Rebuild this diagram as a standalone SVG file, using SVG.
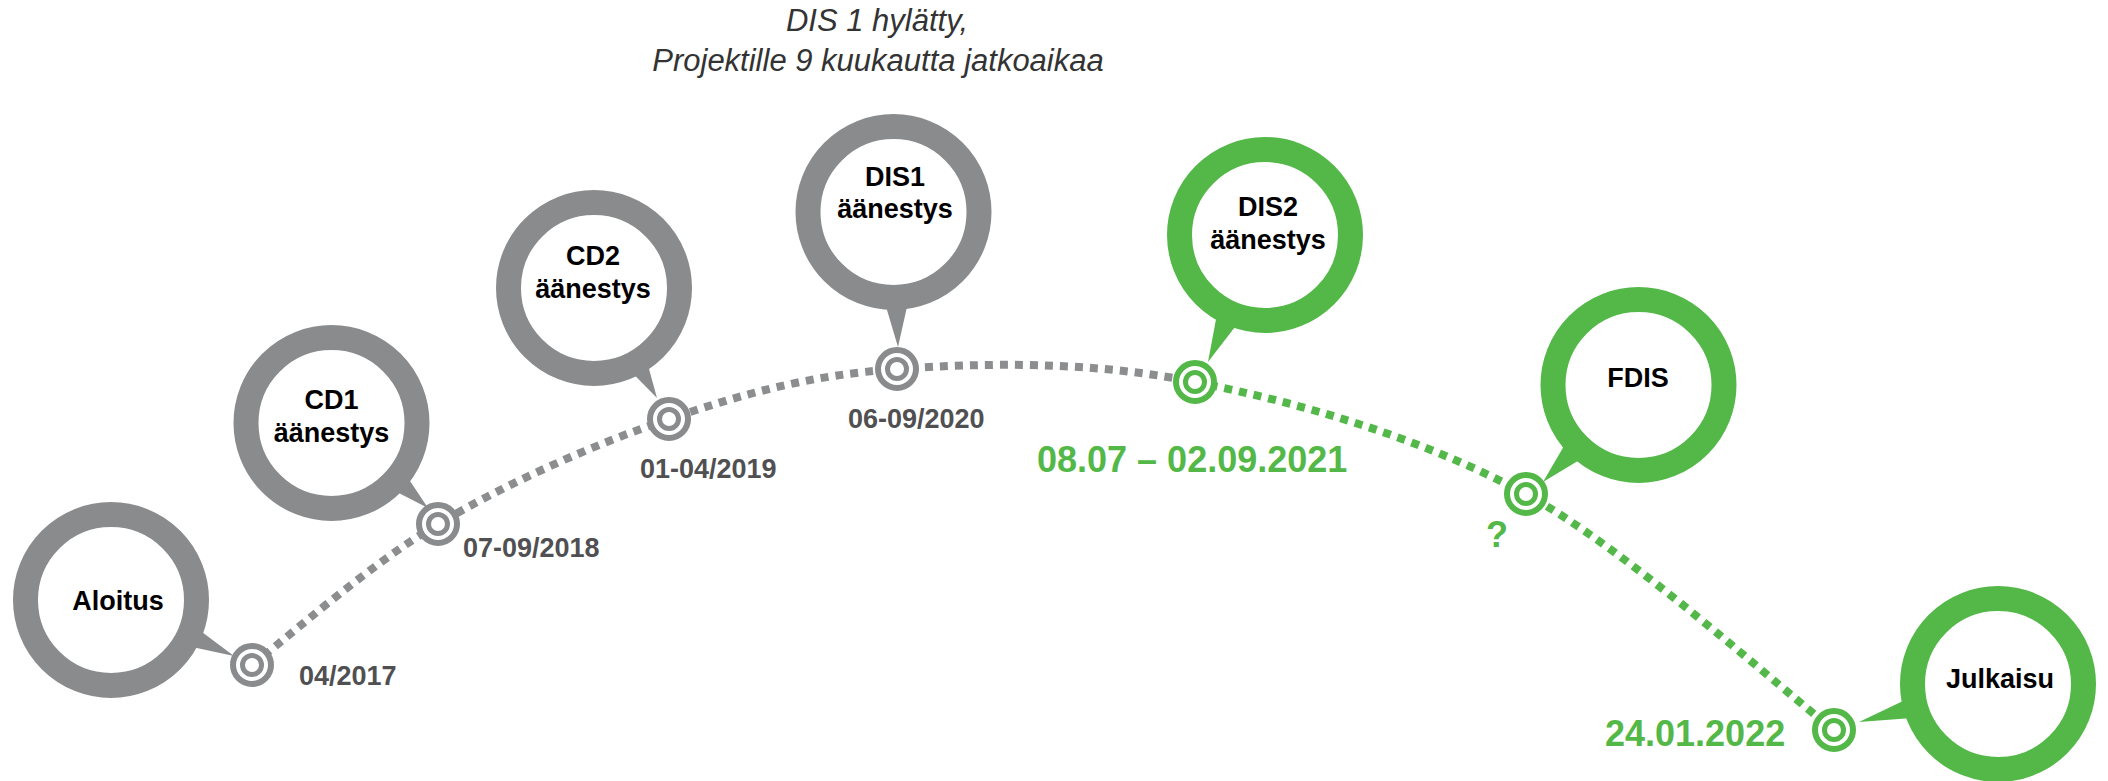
<svg xmlns="http://www.w3.org/2000/svg" width="2108" height="781" viewBox="0 0 2108 781">
  <defs>
    <filter id="soft" x="-5%" y="-5%" width="110%" height="110%">
      <feGaussianBlur stdDeviation="0.6"/>
    </filter>
  </defs>
  <style>
    .ring-g { fill: #ffffff; stroke: #8a8b8d; stroke-width: 25; }
    .ring-n { fill: #ffffff; stroke: #53b848; stroke-width: 25; }
    .tail-g { fill: #8a8b8d; }
    .tail-n { fill: #53b848; }
    .tgt-g { fill: #ffffff; stroke: #8a8b8d; }
    .tgt-n { fill: #ffffff; stroke: #53b848; }
    .tgt-o { stroke-width: 6; }
    .tgt-i { stroke-width: 5; }
    .lbl { font-family: "Liberation Sans", Arial, sans-serif; font-weight: bold; font-size: 27px; fill: #000000; text-anchor: middle; }
    .date-g { font-family: "Liberation Sans", Arial, sans-serif; font-weight: bold; font-size: 27px; fill: #505052; }
    .date-n { font-family: "Liberation Sans", Arial, sans-serif; font-weight: bold; font-size: 36px; fill: #53b848; }
    .note { font-family: "Liberation Sans", Arial, sans-serif; font-style: italic; font-size: 31px; fill: #333333; text-anchor: middle; }
    .dots { fill: none; stroke-width: 8; stroke-dasharray: 8 7; filter: url(#soft); }
  </style>

  <rect width="2108" height="781" fill="#ffffff"/>

  <!-- note above the timeline -->
  <g id="note">
    <text class="note" x="877" y="31">DIS 1 hylätty,</text>
    <text class="note" x="878" y="71">Projektille 9 kuukautta jatkoaikaa</text>
  </g>

  <!-- dotted timeline -->
  <g id="connectors">
    <path class="dots" stroke="#8c8d8f" d="M252,665 C283,641.5 368.5,565 438,524 C507.5,483 592.5,444.8 669,419 C745.5,393.2 809.2,375.2 897,369 C984.8,362.8 1091.2,361 1195,382"/>
    <path class="dots" stroke="#53b848" d="M1195,382 C1300.8,403 1419.7,437 1526,494 C1632.3,553 1782.7,690.8 1834,730"/>
  </g>

  <g id="aloitus">
    <polygon class="tail-g" points="192.9,625.2 183.9,645.2 234,656"/>
    <circle class="ring-g" cx="111" cy="600" r="85.5"/>
    <text class="lbl" x="118" y="610">Aloitus</text>
    <circle class="tgt-g tgt-o" cx="252" cy="665" r="19"/>
    <circle class="tgt-g tgt-i" cx="252" cy="665" r="9.5"/>
    <text class="date-g" x="299" y="685">04/2017</text>
  </g>

  <g id="cd1">
    <polygon class="tail-g" points="403,470.5 388,487.5 428,508"/>
    <circle class="ring-g" cx="331.5" cy="423" r="85.5"/>
    <text class="lbl" x="331.5" y="409">CD1</text>
    <text class="lbl" x="331.5" y="442">äänestys</text>
    <circle class="tgt-g tgt-o" cx="438" cy="524" r="19"/>
    <circle class="tgt-g tgt-i" cx="438" cy="524" r="9.5"/>
    <text class="date-g" x="463" y="557">07-09/2018</text>
  </g>

  <g id="cd2">
    <polygon class="tail-g" points="646.4,359.4 629,369.4 657,398"/>
    <circle class="ring-g" cx="594" cy="288" r="85.5"/>
    <text class="lbl" x="593" y="265">CD2</text>
    <text class="lbl" x="593" y="298">äänestys</text>
    <circle class="tgt-g tgt-o" cx="669" cy="419" r="19"/>
    <circle class="tgt-g tgt-i" cx="669" cy="419" r="9.5"/>
    <text class="date-g" x="640" y="478">01-04/2019</text>
  </g>

  <g id="dis1">
    <polygon class="tail-g" points="883.3,297.4 909.3,296.6 898,347"/>
    <circle class="ring-g" cx="893.5" cy="212" r="85.5"/>
    <text class="lbl" x="895" y="186">DIS1</text>
    <text class="lbl" x="895" y="218">äänestys</text>
    <circle class="tgt-g tgt-o" cx="897" cy="369" r="19"/>
    <circle class="tgt-g tgt-i" cx="897" cy="369" r="9.5"/>
    <text class="date-g" x="848" y="428">06-09/2020</text>
  </g>

  <g id="dis2">
    <polygon class="tail-n" points="1218.3,307.2 1242.1,317.8 1208,362"/>
    <circle class="ring-n" cx="1265" cy="235" r="85.5"/>
    <text class="lbl" x="1268" y="216">DIS2</text>
    <text class="lbl" x="1268" y="249">äänestys</text>
    <circle class="tgt-n tgt-o" cx="1195" cy="382" r="19"/>
    <circle class="tgt-n tgt-i" cx="1195" cy="382" r="9.5"/>
    <text class="date-n" x="1037" y="472">08.07 – 02.09.2021</text>
  </g>

  <g id="fdis">
    <polygon class="tail-n" points="1569.5,436.5 1588.1,454.7 1543,482"/>
    <circle class="ring-n" cx="1638.5" cy="385" r="85.5"/>
    <text class="lbl" x="1638" y="387">FDIS</text>
    <circle class="tgt-n tgt-o" cx="1526" cy="494" r="19"/>
    <circle class="tgt-n tgt-i" cx="1526" cy="494" r="9.5"/>
    <text class="date-n" x="1497" y="547" text-anchor="middle" font-size="32">?</text>
  </g>

  <g id="julkaisu">
    <polygon class="tail-n" points="1913,696.3 1918.6,717.5 1859,722"/>
    <circle class="ring-n" cx="1998" cy="684" r="85.5"/>
    <text class="lbl" x="2000" y="688">Julkaisu</text>
    <circle class="tgt-n tgt-o" cx="1834" cy="730" r="19"/>
    <circle class="tgt-n tgt-i" cx="1834" cy="730" r="9.5"/>
    <text class="date-n" x="1605" y="746">24.01.2022</text>
  </g>
</svg>
